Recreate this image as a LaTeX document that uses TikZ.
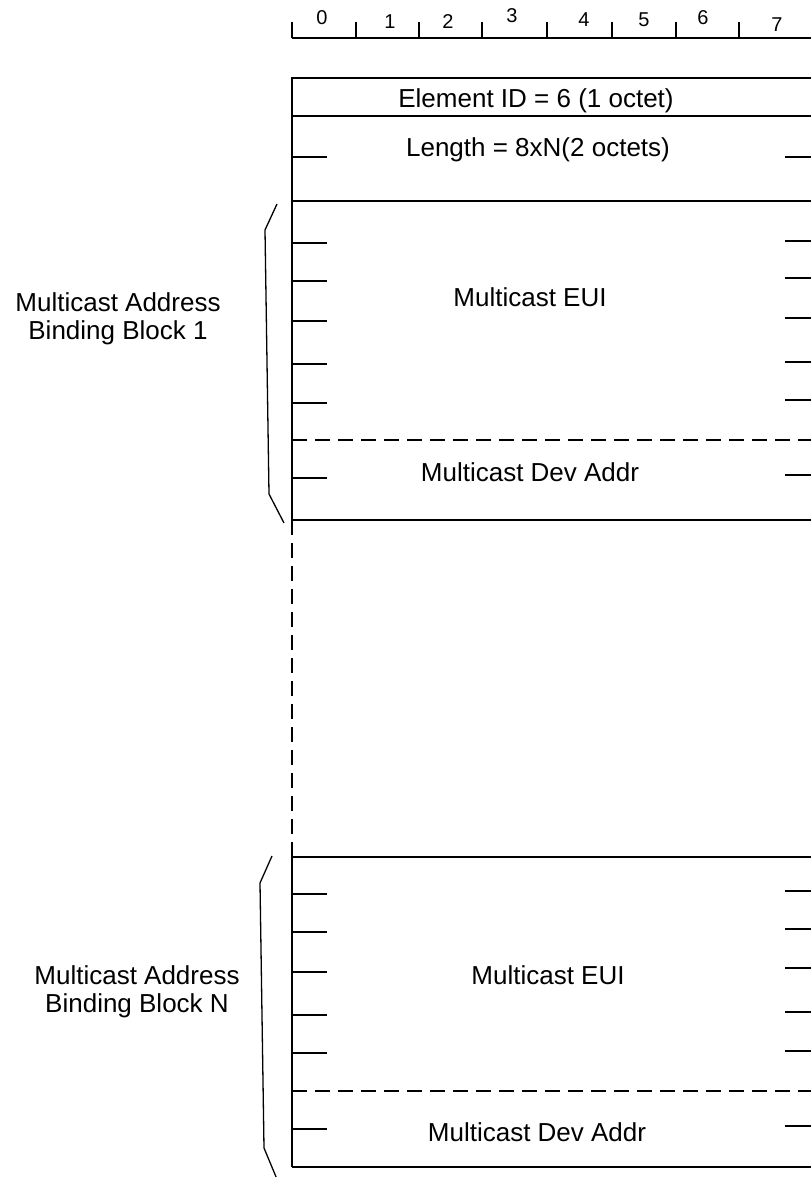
\documentclass[tikz,border=0pt]{standalone}
\usepackage{fontspec}
\setmainfont{Liberation Sans}
\begin{document}
\begin{tikzpicture}[x=1pt,y=-1pt,
  rule/.style={line width=1.6pt},
  dashrule/.style={line width=1.6pt, dash pattern=on 15pt off 8pt},
  lbl/.style={font=\fontsize{26}{28}\selectfont, anchor=base, inner sep=0pt},
  sidelbl/.style={font=\fontsize{26}{28}\selectfont, anchor=base, inner sep=0pt, align=center},
  digit/.style={font=\fontsize{20}{22}\selectfont, anchor=base, inner sep=0pt},
  brace/.style={line width=1.3pt}]
\useasboundingbox (0,0) rectangle (811,1177);

% bit ruler
\draw[rule] (292,38) -- (811,38);
\foreach \x in {292,356,419,482,547,612,676,739}
  \draw[rule] (\x,22) -- (\x,38);
\node[digit] (b0) at (322,25) {0};
\node[digit] (b1) at (390,29) {1};
\node[digit] (b2) at (448,29) {2};
\node[digit] (b3) at (512,23) {3};
\node[digit] (b4) at (584,27) {4};
\node[digit] (b5) at (644,27) {5};
\node[digit] (b6) at (703,25) {6};
\node[digit] (b7) at (777,32) {7};

% header fields
\draw[rule] (811,78) -- (292,78) -- (292,520);
\draw[rule] (292,116) -- (811,116);
\draw[rule] (292,201) -- (811,201);
\node[lbl] (eid) at (536,108) {Element ID = 6 (1 octet)};
\node[lbl] (len) at (538,157) {Length = 8xN(2 octets)};
\draw[rule] (292,157) -- (327,157);
\draw[rule] (785,157) -- (811,157);

% binding block 1
\foreach \y in {243,281,321,364,403,478}
  \draw[rule] (292,\y) -- (327,\y);
\foreach \y in {241,278,318,362,400,475}
  \draw[rule] (785,\y) -- (811,\y);
\draw[dashrule] (292,440) -- (811,440);
\draw[rule] (292,520) -- (811,520);
\node[lbl] (eui1) at (530,306) {Multicast EUI};
\node[lbl] (dev1) at (530,481) {Multicast Dev Addr};
\draw[brace] (277,204) -- (265,230) -- (269,494) -- (284,523);
\node[sidelbl] (blk1) at (118,339) {Multicast Address\\Binding Block 1};

% omitted blocks
\draw[dashrule] (292,520) -- (292,857);

% binding block N
\draw[rule] (292,857) -- (292,1167);
\draw[rule] (292,857) -- (811,857);
\foreach \y in {894,932,972,1015,1053,1129}
  \draw[rule] (292,\y) -- (327,\y);
\foreach \y in {891,929,968,1012,1051,1126}
  \draw[rule] (785,\y) -- (811,\y);
\draw[dashrule] (292,1091) -- (811,1091);
\draw[rule] (292,1167) -- (811,1167);
\node[lbl] (euiN) at (548,984) {Multicast EUI};
\node[lbl] (devN) at (537,1141) {Multicast Dev Addr};
\draw[brace] (272,856) -- (260,883) -- (264,1148) -- (279,1184);
\node[sidelbl] (blkN) at (137,1012) {Multicast Address\\Binding Block N};
\end{tikzpicture}
\end{document}
